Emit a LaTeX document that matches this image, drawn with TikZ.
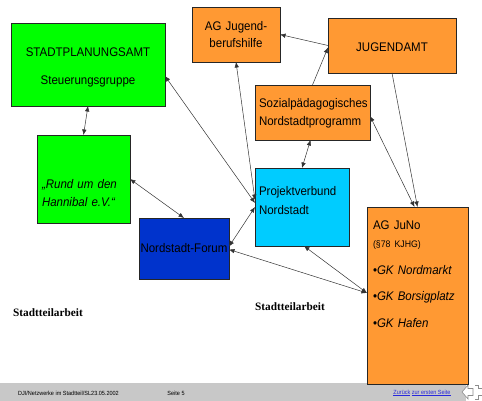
\documentclass[tikz,border=0pt]{standalone}
\usepackage{fontspec}
\setmainfont{Liberation Sans}[FakeStretch=0.92]
\newfontfamily\serifbold{Liberation Serif}
\usepackage{tikz}
\usetikzlibrary{arrows.meta}

\definecolor{amtgruen}{RGB}{0,255,0}
\definecolor{juorange}{RGB}{255,153,51}
\definecolor{pvcyan}{RGB}{0,204,255}
\definecolor{forumblau}{RGB}{0,51,204}
\definecolor{fussgrau}{RGB}{200,200,200}
\definecolor{linkblau}{RGB}{40,40,220}

\begin{document}
\begin{tikzpicture}[
  x=1pt,y=-1pt,
  font=\fontsize{12.5}{17}\selectfont,
  box/.style={draw=black!85,line width=0.8pt,anchor=north west,outer sep=0pt,
    inner ysep=0pt,inner xsep=4pt,execute at begin node={\hyphenpenalty=10000\relax}},
  amtbox/.style={box,fill=amtgruen},
  jubox/.style={box,fill=juorange},
  pvbox/.style={box,fill=pvcyan},
  forumbox/.style={box,fill=forumblau},
  titel/.style={font=\serifbold\bfseries\fontsize{11.3}{13}\selectfont},
  fuss/.style={font=\fontsize{6}{7}\selectfont},
  pfeil/.style={-{Latex[length=5.5pt,width=4.5pt]},line width=0.5pt,draw=black!80},
  doppelpfeil/.style={{Latex[length=5.5pt,width=4.5pt]}-{Latex[length=5.5pt,width=4.5pt]},line width=0.5pt,draw=black!80}]

  \useasboundingbox (0,0) rectangle (482,401);

  % footer bar
  \fill[fussgrau] (0,383) rectangle (466,401);
  \node[fuss] (fussquelle) at (68.5,393) {DJI/Netzwerke im Stadtteil/SL23.05.2002};
  \node[fuss] (fussseite) at (176,393) {Seite 5};
  \node[fuss,text=linkblau] (fusslink) at (422,393) {\underline{Zurück} \underline{zur ersten Seite}};
  \draw[black!45,fill=white,line width=0.6pt] (462,392) -- (468,385) -- (468,388.5) -- (473,388.5)
    -- (473,395.5) -- (468,395.5) -- (468,399) -- cycle;
  \draw[black!45,line width=0.6pt] (482,388.5) -- (478,388.5) -- (478,385) -- (475,385);
  \draw[black!45,line width=0.6pt] (482,395.5) -- (478,395.5) -- (478,399) -- (475,399);

  % Position the boxes at their top left corners
  \node[amtbox,text width=146pt,align=center,text height=34pt,text depth=49pt] (stadt) at (11,23)
    {STADTPLANUNGSAMT\\[11pt]Steuerungsgruppe};
  \node[amtbox,inner xsep=5pt,text width=83pt,align=left,text height=53pt,text depth=35pt,
    font=\fontsize{12.5}{18}\selectfont\itshape] (rund) at (37,135)
    {„Rund um den\\Hannibal e.V.“};
  \node[jubox,text width=80pt,align=center,text height=24pt,text depth=31pt] (agjb) at (192,7)
    {AG Jugend-\\berufshilfe};
  \node[jubox,text width=120pt,align=center,text height=34pt,text depth=21pt] (jugendamt) at (328,18)
    {JUGENDAMT};
  \node[jubox,text width=107pt,align=left,text height=23pt,text depth=32pt] (sozial) at (255,85)
    {Sozialpädagogisches\\[1pt]Nordstadtprogramm};
  \node[pvbox,text width=86pt,align=left,text height=28pt,text depth=50pt] (projekt) at (255,168)
    {Projektverbund\\[2pt]Nordstadt};
  \node[forumbox,inner xsep=0pt,minimum width=90pt,text height=34pt,text depth=27pt] (forum) at (139,218)
    {Nordstadt-Forum};
  \node[jubox,inner xsep=6pt,text width=89pt,align=left,text height=22pt,text depth=155pt] (juno) at (367,207)
    {AG JuNo\\[1pt]{\fontsize{9.5}{11}\selectfont(§78 KJHG)}\\[10pt]•\textit{GK Nordmarkt}\\[9pt]•\textit{GK Borsigplatz}\\[10pt]•\textit{GK Hafen}};

  \node[titel] (arbeitlinks) at (48,313) {Stadtteilarbeit};
  \node[titel] (arbeitmitte) at (290,307) {Stadtteilarbeit};

  % Draw the arrows between the boxes
  \draw[doppelpfeil] (stadt.south) -- (rund.north);
  \draw[doppelpfeil] (rund.east) -- (forum.north);
  \draw[doppelpfeil] ([yshift=-11.5pt]stadt.east) -- ([yshift=4pt]projekt.west);
  \draw[doppelpfeil] (agjb.south) -- ([yshift=7pt]projekt.west);
  \draw[pfeil] (jugendamt.west) -- (agjb.east);
  \draw[pfeil] (sozial.north) -- ([yshift=-2pt]jugendamt.west);
  \draw[doppelpfeil] ([xshift=-2pt]sozial.south) -- (projekt.north);
  \draw[pfeil] (jugendamt.south) -- (juno.north);
  \draw[doppelpfeil] ([yshift=-3.5pt]sozial.east) -- ([xshift=-3pt]juno.north);
  \draw[doppelpfeil] (projekt.west) -- ([yshift=2pt]forum.east);
  \draw[doppelpfeil] ([yshift=-1pt]forum.east) -- ([yshift=2.5pt]juno.west);
  \draw[doppelpfeil] ([xshift=2pt]projekt.south) -- ([yshift=2.5pt]juno.west);
\end{tikzpicture}
\end{document}
